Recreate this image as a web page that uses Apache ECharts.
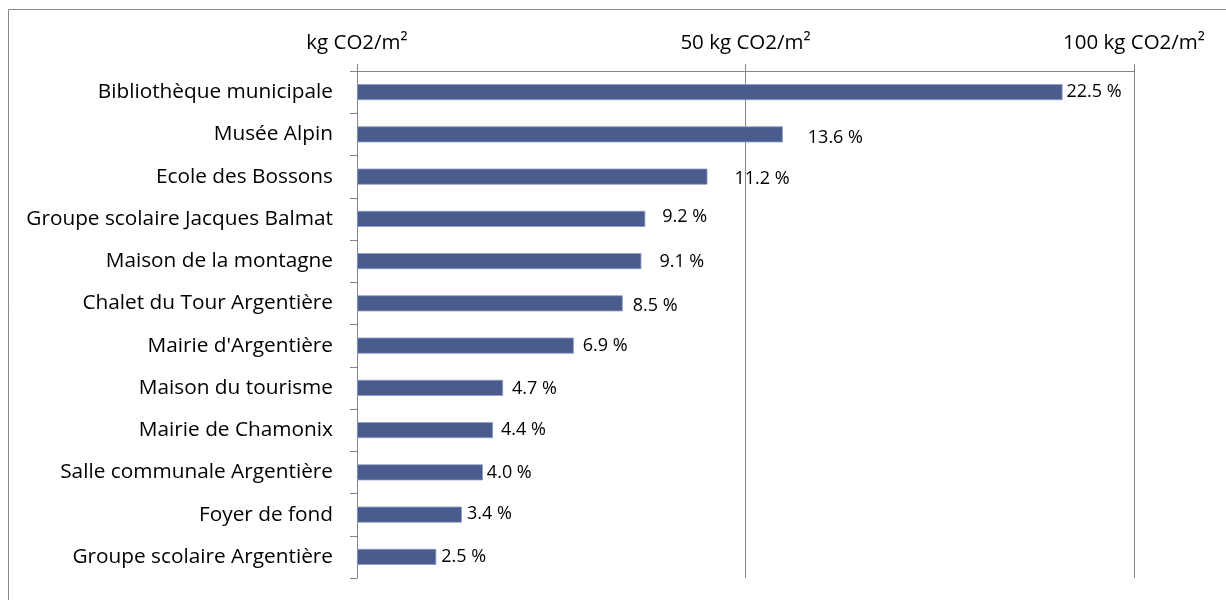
<!DOCTYPE html>
<html>
<head>
<meta charset="utf-8">
<script src="https://cdn.jsdelivr.net/npm/echarts@6/dist/echarts.min.js"></script>
<style>
  html, body { margin: 0; padding: 0; background: #fff; }
  #chart { width: 1226px; height: 600px; }
</style>
</head>
<body>
<div id="chart"></div>
<script>
// Buildings, top to bottom
const buildings = [
  'Bibliothèque municipale',
  'Musée Alpin',
  'Ecole des Bossons',
  'Groupe scolaire Jacques Balmat',
  'Maison de la montagne',
  "Chalet du Tour Argentière",
  "Mairie d'Argentière",
  'Maison du tourisme',
  'Mairie de Chamonix',
  'Salle communale Argentière',
  'Foyer de fond',
  'Groupe scolaire Argentière'
];

// Emissions per floor area (kg CO2/m²)
const emissions = [90.8, 54.8, 45.1, 37.1, 36.6, 34.2, 27.9, 18.8, 17.5, 16.2, 13.5, 10.2];

// Share of the total (%)
const shares = [22.5, 13.6, 11.2, 9.2, 9.1, 8.5, 6.9, 4.7, 4.4, 4.0, 3.4, 2.5];

// Value axis ticks
const axisTicks = [0, 50, 100];
const unit = 'kg CO2/m²';

// Hand-placed label nudges [dx, dy]
const labelNudges = [[4, 0], [25, 3], [27, 2], [17, -2], [18, 1], [10, 2], [9, 0], [9, 1], [8, 0], [4, 0], [5, -1], [5, 0]];

const FONT = '"Open Sans", sans-serif';
const GREY = '#868686';

const chart = echarts.init(document.getElementById('chart'), null, { renderer: 'canvas' });

chart.setOption({
  animation: false,
  backgroundColor: '#ffffff',
  graphic: [{
    type: 'rect',
    shape: { x: 8.5, y: 9.5, width: 1400, height: 800 },
    style: { fill: 'none', stroke: GREY, lineWidth: 1 },
    silent: true,
    z: 0
  }],
  grid: { left: 357, right: 92, top: 71, bottom: 22, containLabel: false },
  xAxis: {
    type: 'value',
    position: 'top',
    min: axisTicks[0],
    max: axisTicks[axisTicks.length - 1],
    interval: axisTicks[1] - axisTicks[0],
    axisLine: { show: true, lineStyle: { color: GREY, width: 1 } },
    axisTick: { show: true, length: 7, lineStyle: { color: GREY, width: 1 } },
    splitLine: { show: true, lineStyle: { color: GREY, width: 1 } },
    axisLabel: {
      margin: 17,
      color: '#000',
      fontFamily: FONT,
      fontSize: 20.5,
      formatter: v => (v === 0 ? unit : v + ' ' + unit)
    }
  },
  yAxis: {
    type: 'category',
    inverse: true,
    data: buildings,
    axisLine: { show: true, lineStyle: { color: GREY, width: 1 } },
    axisTick: { show: true, length: 7, lineStyle: { color: GREY, width: 1 } },
    axisLabel: {
      margin: 24,
      color: '#000',
      fontFamily: FONT,
      fontSize: 20.8
    }
  },
  series: [{
    type: 'bar',
    barWidth: 16,
    data: emissions.map((v, i) => ({
      value: v,
      label: { offset: labelNudges[i] }
    })),
    itemStyle: { color: '#4A5B8D', borderColor: '#8A9AC4', borderWidth: 0.8 },
    label: {
      show: true,
      position: 'right',
      distance: 0,
      color: '#000',
      fontFamily: FONT,
      fontSize: 18,
      formatter: p => shares[p.dataIndex].toFixed(1) + ' %'
    }
  }]
});
</script>
</body>
</html>
